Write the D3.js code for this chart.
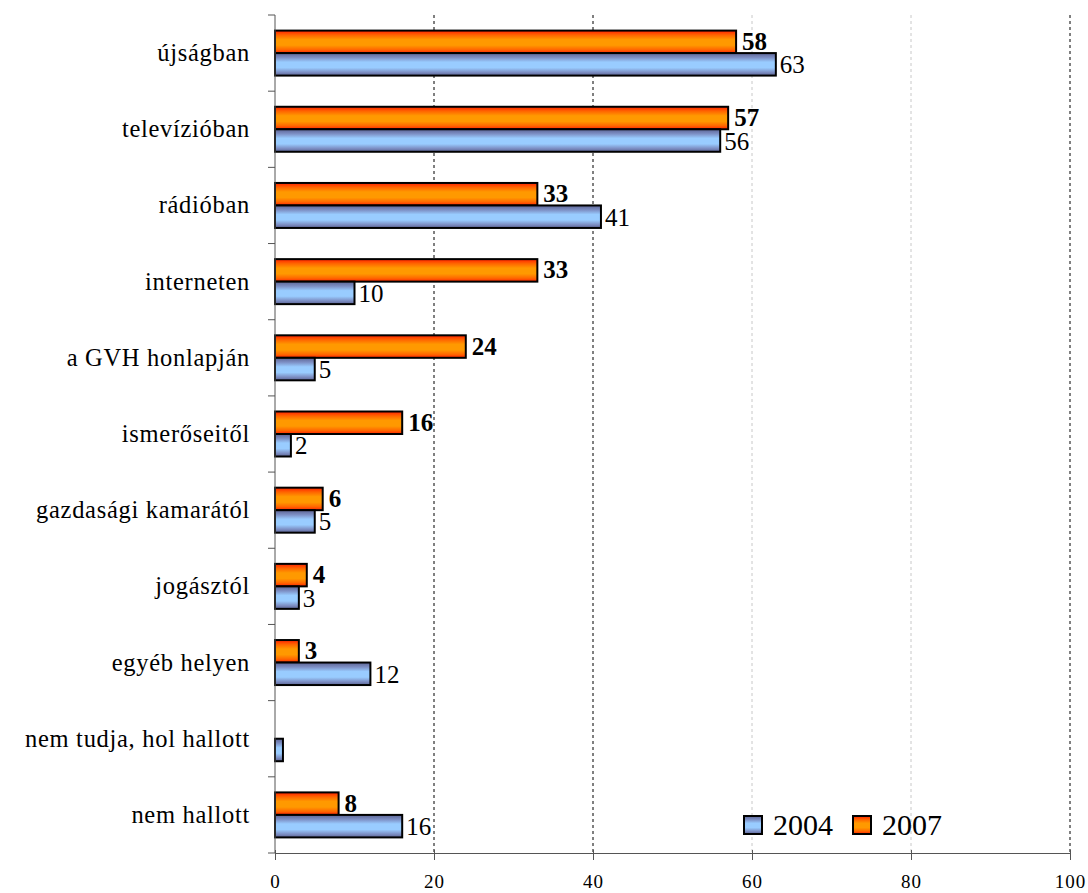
<!DOCTYPE html>
<html><head><meta charset="utf-8">
<script src="https://cdn.jsdelivr.net/npm/d3@7"></script>
<style>body{margin:0;background:#fff}svg{display:block}</style>
</head><body>
<script>
const categories = ["újságban","televízióban","rádióban","interneten","a GVH honlapján","ismerőseitől","gazdasági kamarától","jogásztól","egyéb helyen","nem tudja, hol hallott","nem hallott"];
const values2004 = [63,56,41,10,5,2,5,3,12,1,16];
const values2007 = [58,57,33,33,24,16,6,4,3,null,8];
const seriesNames = ["2004","2007"];
const xTicks = [0,20,40,60,80,100];

const W=1088,H=893;
const svg=d3.select("body").append("svg").attr("width",W).attr("height",H);
const defs=svg.append("defs");
const gB=defs.append("linearGradient").attr("id","gB").attr("x1",0).attr("y1",0).attr("x2",0).attr("y2",1);
[[0,"#5c6494"],[0.2,"#7d8fc4"],[0.4,"#99ccff"],[0.65,"#99ccff"],[0.85,"#7d8fc4"],[1,"#5c6494"]].forEach(s=>gB.append("stop").attr("offset",s[0]).attr("stop-color",s[1]));
const gO=defs.append("linearGradient").attr("id","gO").attr("x1",0).attr("y1",0).attr("x2",0).attr("y2",1);
[[0,"#ff2200"],[0.2,"#ff6600"],[0.4,"#ff9900"],[0.65,"#ff9900"],[0.85,"#ff6600"],[1,"#ff2200"]].forEach(s=>gO.append("stop").attr("offset",s[0]).attr("stop-color",s[1]));

const x=d3.scaleLinear().domain([0,100]).range([275,1070]);
const y=d3.scaleBand().domain(categories).range([15,853]);
const inner=d3.scaleBand().domain(["2007","2004"]).range([0,45]);
const font="Liberation Serif";

// gridlines
xTicks.filter(t=>t>0).forEach(t=>{
  const light = (t===60||t===80);
  svg.append("line").attr("x1",x(t)).attr("x2",x(t)).attr("y1",15).attr("y2",853)
    .attr("stroke",light?"#c8c8c8":"#000").attr("stroke-width",1).attr("stroke-dasharray","3,3");
});

// bars
const off=(y.bandwidth()-45)/2;
categories.forEach((c,i)=>{
  const y0=y(c)+off;
  const v7=values2007[i], v4=values2004[i];
  if(v7!=null){
    svg.append("rect").attr("x",x(0)).attr("y",y0+inner("2007")).attr("width",x(v7)-x(0)).attr("height",inner.bandwidth())
      .attr("fill","url(#gO)").attr("stroke","#000").attr("stroke-width",2);
    svg.append("text").attr("x",x(v7)+6).attr("y",y0+inner("2007")+inner.bandwidth()/2+8)
      .attr("font-family",font).attr("font-size",25).attr("font-weight","bold").text(v7);
  }
  if(v4!=null){
    svg.append("rect").attr("x",x(0)).attr("y",y0+inner("2004")).attr("width",x(v4)-x(0)).attr("height",inner.bandwidth())
      .attr("fill","url(#gB)").attr("stroke","#000").attr("stroke-width",2);
    if(v4>1) svg.append("text").attr("x",x(v4)+4).attr("y",y0+inner("2004")+inner.bandwidth()/2+9)
      .attr("font-family",font).attr("font-size",25).text(v4);
  }
});

// y axis
const ya=svg.append("g");
ya.append("line").attr("x1",275).attr("x2",275).attr("y1",15).attr("y2",853).attr("stroke","#555");
categories.forEach(c=>{
  ya.append("line").attr("x1",268).attr("x2",275).attr("y1",y(c)).attr("y2",y(c)).attr("stroke","#555");
  ya.append("text").attr("x",250).attr("y",y(c)+y.bandwidth()/2+8).attr("text-anchor","end")
    .attr("font-family",font).attr("font-size",24.5).attr("letter-spacing",0.7).text(c);
});
ya.append("line").attr("x1",268).attr("x2",275).attr("y1",853).attr("y2",853).attr("stroke","#555");

// x axis
const xa=svg.append("g").attr("transform","translate(0,853)").call(d3.axisBottom(x).tickValues(xTicks).tickSize(7).tickPadding(15));
xa.select(".domain").attr("stroke","#555");
xa.selectAll(".tick line").attr("stroke","#555").attr("y1",-3);
xa.selectAll("text").attr("font-family",font).attr("font-size",19).attr("letter-spacing",1).attr("fill","#000");

// legend
const leg=[{n:seriesNames[0],f:"url(#gB)",x:744},{n:seriesNames[1],f:"url(#gO)",x:853}];
leg.forEach(l=>{
  svg.append("rect").attr("x",l.x).attr("y",816).attr("width",18).attr("height",18).attr("fill",l.f).attr("stroke","#000").attr("stroke-width",2);
  svg.append("text").attr("x",l.x+29).attr("y",835).attr("font-family",font).attr("font-size",30).text(l.n);
});
</script>
</body></html>
